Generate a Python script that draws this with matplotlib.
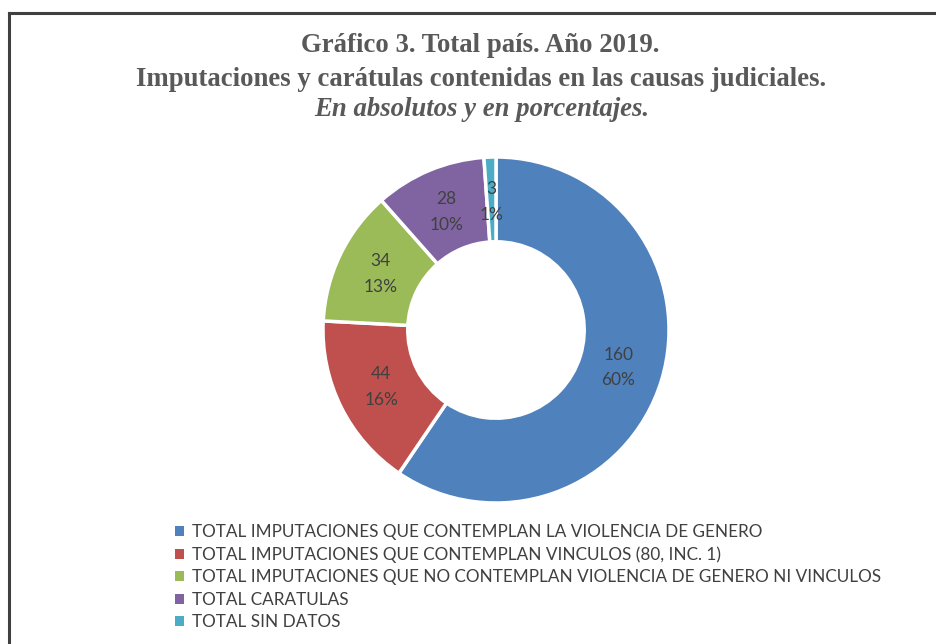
import matplotlib.pyplot as plt
from matplotlib.patches import Patch
from matplotlib.lines import Line2D

# Datos del gráfico
categorias = [
    "TOTAL IMPUTACIONES QUE CONTEMPLAN LA VIOLENCIA DE GENERO",
    "TOTAL IMPUTACIONES QUE CONTEMPLAN VINCULOS (80, INC. 1)",
    "TOTAL IMPUTACIONES QUE NO CONTEMPLAN VIOLENCIA DE GENERO NI VINCULOS",
    "TOTAL CARATULAS",
    "TOTAL SIN DATOS",
]
valores = [160, 44, 34, 28, 3]
porcentajes = [60, 16, 13, 10, 1]  # tal como aparecen en el gráfico
colores = ["#4F81BD", "#C0504D", "#9BBB59", "#8064A2", "#4BACC6"]

W, H = 936, 644
fig = plt.figure(figsize=(W / 100, H / 100), dpi=100)

# Marco superior e izquierdo
fig.add_artist(Line2D([9 / W, 1], [1 - 13 / H, 1 - 13 / H], color="#404040", lw=2.2))
fig.add_artist(Line2D([9 / W, 9 / W], [0, 1 - 13 / H], color="#404040", lw=2.2))

# Título
tcol = "#595959"
tfont = dict(family="Liberation Serif", fontweight="bold", fontsize=19.3, color=tcol,
             ha="center", va="center")
fig.text(480 / W, 1 - 46 / H, "Gráfico 3. Total país. Año 2019.", **tfont)
fig.text(481 / W, 1 - 79 / H, "Imputaciones y carátulas contenidas en las causas judiciales.", **tfont)
fig.text(482 / W, 1 - 110 / H, "En absolutos y en porcentajes.", style="italic", **tfont)

# Anillo
cx, cy, r = 496, 330, 173
ax = fig.add_axes([(cx - r) / W, (H - cy - r) / H, 2 * r / W, 2 * r / H])

wedges, texts, autotexts = ax.pie(
    valores, colors=colores, startangle=90, counterclock=False, radius=1,
    wedgeprops=dict(width=0.49, edgecolor="white", linewidth=2.5),
    autopct="%d", pctdistance=0.74,
    textprops=dict(color="#404040", fontsize=12.5, family="Lato", linespacing=1.75),
)
for t, v, p in zip(autotexts, valores, porcentajes):
    t.set_text(f"{v}\n{p}%")
ax.set_xlim(-1, 1)
ax.set_ylim(-1, 1)
ax.set_aspect("equal")
ax.axis("off")

# Leyenda
handles = [Patch(facecolor=c, edgecolor="none") for c in colores]
fig.legend(handles, categorias, loc="upper left", bbox_to_anchor=(168 / W, 1 - 517 / H),
           frameon=False, handlelength=0.55, handleheight=0.55, handletextpad=0.45,
           labelspacing=0.38, borderaxespad=0,
           prop=dict(family="Lato", size=12.3), labelcolor="#404040")

fig.savefig("out.png", dpi=100, facecolor="white")
